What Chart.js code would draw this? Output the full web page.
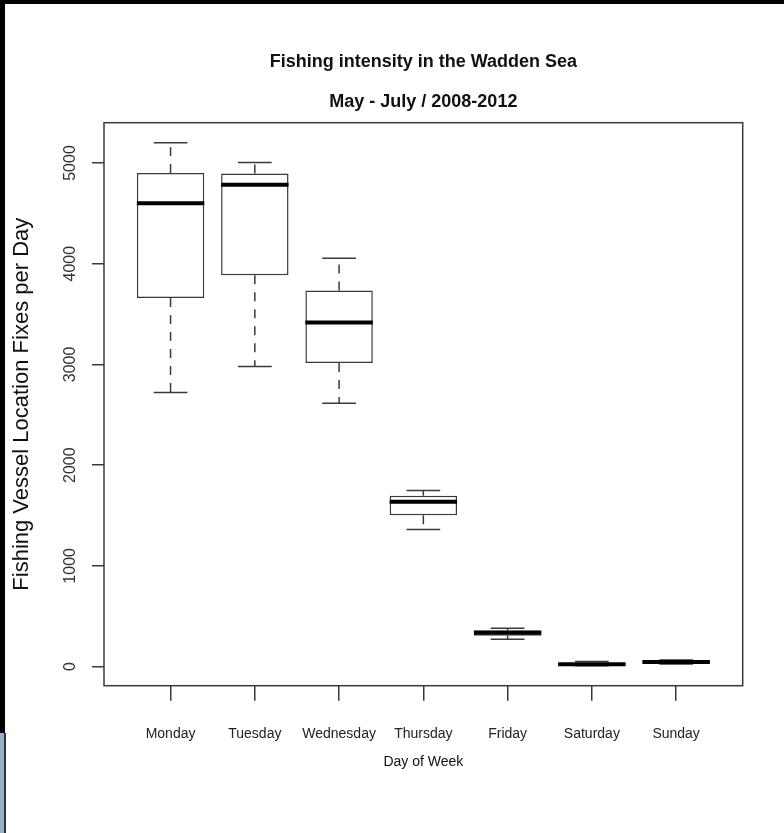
<!DOCTYPE html>
<html>
<head>
<meta charset="utf-8">
<title>Fishing intensity in the Wadden Sea</title>
<script src="https://cdn.jsdelivr.net/npm/chart.js"></script>
<style>
  html, body { margin: 0; padding: 0; background: #fff; }
  #wrap { position: relative; width: 784px; height: 833px; }
  #chart { display: block; }
  .edge { position: absolute; pointer-events: none; }
</style>
</head>
<body>
<div id="wrap">
  <canvas id="chart" width="784" height="833"></canvas>
  <!-- screenshot edges seen in the reference -->
  <div class="edge" style="left:0;top:0;width:784px;height:4px;background:#000"></div>
  <div class="edge" style="left:0;top:0;width:5px;height:733px;background:#000"></div>
  <div class="edge" style="left:0;top:733px;width:4px;height:100px;background:#98b0cc"></div>
  <div class="edge" style="left:4px;top:733px;width:1.5px;height:100px;background:#333"></div>
</div>
<script>
  // Box plot values
  const days = ['Monday', 'Tuesday', 'Wednesday', 'Thursday', 'Friday', 'Saturday', 'Sunday'];
  const whiskerLow = [2720, 2980, 2615, 1360, 272, 8, 25];
  const lowerQuartile = [3660, 3885, 3015, 1503, 305, 12, 33];
  const medians = [4600, 4785, 3415, 1636, 335, 22, 45];
  const upperQuartile = [4900, 4895, 3735, 1695, 361, 35, 56];
  const whiskerHigh = [5200, 5005, 4055, 1748, 381, 50, 65];
  const yTicks = [0, 1000, 2000, 3000, 4000, 5000];

  const sans = "'Liberation Sans', Arial, Helvetica, sans-serif";
  const ink = '#3a3a3a';

  // Whiskers, caps, medians and the plot frame, placed through the chart scales
  const boxExtras = {
    id: 'boxExtras',
    afterDatasetsDraw(chart) {
      const { ctx, scales: { x, y } } = chart;
      const bars = chart.getDatasetMeta(0).data;
      ctx.save();
      days.forEach((day, i) => {
        const cx = x.getPixelForValue(i + 1);
        const half = bars[i].width / 2;
        const cap = half / 2;
        const yLo = y.getPixelForValue(whiskerLow[i]);
        const yQ1 = y.getPixelForValue(lowerQuartile[i]);
        const yMed = y.getPixelForValue(medians[i]);
        const yQ3 = y.getPixelForValue(upperQuartile[i]);
        const yHi = y.getPixelForValue(whiskerHigh[i]);

        ctx.strokeStyle = ink;
        ctx.lineWidth = 1.5;
        ctx.setLineDash([9, 8]);
        ctx.beginPath();
        ctx.moveTo(cx, yQ3); ctx.lineTo(cx, yHi);
        ctx.moveTo(cx, yQ1); ctx.lineTo(cx, yLo);
        ctx.stroke();

        ctx.setLineDash([]);
        ctx.beginPath();
        ctx.moveTo(cx - cap, yHi); ctx.lineTo(cx + cap, yHi);
        ctx.moveTo(cx - cap, yLo); ctx.lineTo(cx + cap, yLo);
        ctx.stroke();

        ctx.strokeStyle = '#000';
        ctx.lineWidth = 4;
        ctx.beginPath();
        ctx.moveTo(cx - half, yMed); ctx.lineTo(cx + half, yMed);
        ctx.stroke();
      });
      const a = chart.chartArea;
      ctx.strokeStyle = ink;
      ctx.lineWidth = 1.5;
      ctx.strokeRect(a.left, a.top, a.right - a.left, a.bottom - a.top);
      ctx.restore();
    }
  };

  new Chart(document.getElementById('chart'), {
    type: 'bar',
    data: {
      datasets: [{
        data: days.map((d, i) => ({ x: i + 1, y: [lowerQuartile[i], upperQuartile[i]] })),
        backgroundColor: '#fff',
        borderColor: ink,
        borderWidth: 1.5,
        borderSkipped: false,
        barPercentage: 0.8,
        categoryPercentage: 1
      }]
    },
    plugins: [boxExtras],
    options: {
      responsive: false,
      animation: false,
      events: [],
      layout: { padding: { left: 0, right: 41.3, top: 0, bottom: 0 } },
      plugins: {
        legend: { display: false },
        tooltip: { enabled: false },
        title: {
          display: true,
          text: 'Fishing intensity in the Wadden Sea',
          fullSize: false,
          color: '#111',
          font: { family: sans, size: 18, weight: 'bold' },
          padding: { top: 51.2, bottom: 0 }
        },
        subtitle: {
          display: true,
          text: 'May - July / 2008-2012',
          fullSize: false,
          color: '#111',
          font: { family: sans, size: 18, weight: 'bold' },
          padding: { top: 18.4, bottom: 9.9 }
        }
      },
      scales: {
        x: {
          type: 'linear',
          min: 0.21,
          max: 7.79,
          offset: false,
          afterBuildTicks: s => { s.ticks = days.map((d, i) => ({ value: i + 1 })); },
          afterFit: s => { s.height = 147.3; },
          grid: { offset: false, drawOnChartArea: false, tickLength: 15, color: ink, lineWidth: 1.5 },
          border: { display: false },
          ticks: {
            callback: v => days[v - 1],
            autoSkip: false,
            maxRotation: 0,
            padding: 25,
            color: '#222',
            font: { family: sans, size: 14 }
          },
          title: {
            display: true,
            text: 'Day of Week',
            color: '#111',
            font: { family: sans, size: 14 },
            padding: { top: 0, bottom: 62.6 }
          }
        },
        y: {
          min: -190,
          max: 5400,
          afterBuildTicks: s => { s.ticks = yTicks.map(v => ({ value: v })); },
          afterFit: s => { s.width = 104; },
          grid: { drawOnChartArea: false, tickLength: 12, color: ink, lineWidth: 1.5 },
          border: { display: false },
          ticks: {
            callback: v => String(v),
            minRotation: 90,
            maxRotation: 90,
            crossAlign: 'center',
            padding: 3.2,
            color: '#333',
            font: { family: sans, size: 16 }
          },
          title: {
            display: true,
            text: 'Fishing Vessel Location Fixes per Day',
            color: '#111',
            font: { family: sans, size: 22 },
            padding: { top: 8.8, bottom: 0 }
          }
        }
      }
    }
  });
</script>
</body>
</html>
